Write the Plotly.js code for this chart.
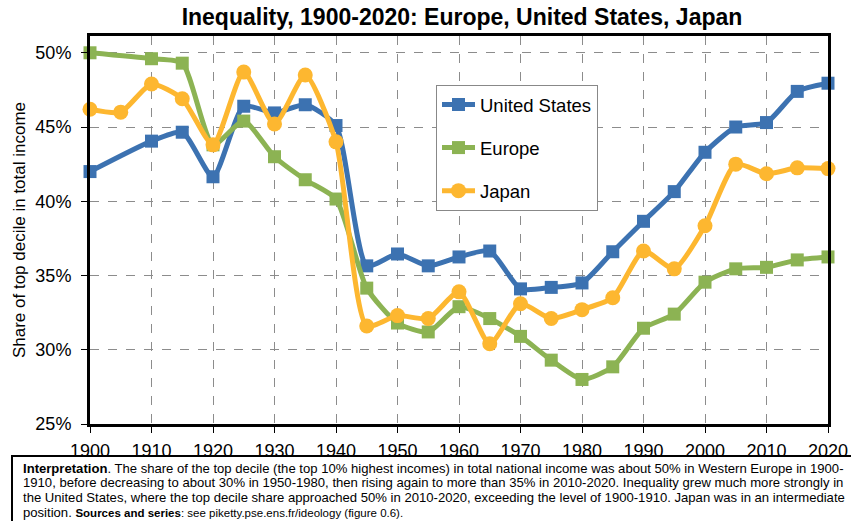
<!DOCTYPE html>
<html><head><meta charset="utf-8">
<script src="https://cdn.plot.ly/plotly-3.0.1.min.js"></script>
<style>html,body{margin:0;padding:0;background:#fff;}#chart{width:851px;height:521px;}</style>
</head><body><div id="chart"></div>
<script>
const yearsUS = [1900,1910,1915,1920,1925,1930,1935,1940,1945,1950,1955,1960,1965,1970,1975,1980,1985,1990,1995,2000,2005,2010,2015,2020];
const valuesUS = [42.0,44.05,44.65,41.65,46.4,45.95,46.5,45.1,35.65,36.45,35.65,36.25,36.65,34.1,34.2,34.5,36.6,38.65,40.65,43.3,45.0,45.3,47.4,47.95];
const yearsEurope = [1900,1910,1915,1920,1925,1930,1935,1940,1945,1950,1955,1960,1965,1970,1975,1980,1985,1990,1995,2000,2005,2010,2015,2020];
const valuesEurope = [50.0,49.6,49.3,43.8,45.4,43.0,41.45,40.15,34.15,31.8,31.2,32.9,32.1,30.9,29.3,28.0,28.85,31.45,32.4,34.55,35.45,35.55,36.05,36.25];
const yearsJapan = [1900,1905,1910,1915,1920,1925,1930,1935,1940,1945,1950,1955,1960,1965,1970,1975,1980,1985,1990,1995,2000,2005,2010,2015,2020];
const valuesJapan = [46.2,46.0,47.9,46.9,43.8,48.7,45.2,48.5,44.0,31.6,32.3,32.1,33.9,30.4,33.1,32.1,32.7,33.5,36.65,35.45,38.35,42.5,41.85,42.25,42.2];
const yTickVals = [25,30,35,40,45,50];
const yTickText = ['25%','30%','35%','40%','45%','50%'];
const xTickVals = [1900,1910,1920,1930,1940,1950,1960,1970,1980,1990,2000,2010,2020];
const noteLines = [
  '<b>Interpretation</b>. The share of the top decile (the top 10% highest incomes) in total national income was about 50% in Western Europe in 1900-',
  '1910, before decreasing to about 30% in 1950-1980, then rising again to more than 35% in 2010-2020. Inequality grew much more strongly in',
  'the United States, where the top decile share approached 50% in 2010-2020, exceeding the level of 1900-1910. Japan was in an intermediate',
  'position. <b style="font-size:11.5px">Sources and series</b><span style="font-size:11.5px">: see piketty.pse.ens.fr/ideology (figure 0.6).</span>'
];

const FONT = 'Liberation Sans, Arial, sans-serif';
const W = 851, H = 521, ML = 90, MR = 23, MT = 36, MB = 97;
const PW = W - ML - MR, PH = H - MT - MB;
const px = x => (x - ML) / PW;
const py = y => (H - MB - y) / PH;

function tr(name, x, y, color, symbol, grp) {
  return {
    x: x, y: y, name: name, type: 'scatter', mode: 'lines+markers',
    legendgroup: grp, cliponaxis: false,
    line: {color: color, width: 5, shape: 'spline', smoothing: 0.6},
    marker: {color: color, symbol: symbol, size: symbol === 'square' ? 13 : 15, line: {width: 0}}
  };
}
const data = [
  tr('United States', yearsUS, valuesUS, '#3C72B1', 'square', 'a'),
  tr('Europe', yearsEurope, valuesEurope, '#8CB353', 'square', 'b'),
  tr('Japan', yearsJapan, valuesJapan, '#FDB730', 'circle', 'c')
];
const annotations = noteLines.map((t, i) => ({
  xref: 'paper', yref: 'paper', x: px(21), y: py(468.5 + 14.5 * i), xanchor: 'left', yanchor: 'middle', align: 'left',
  showarrow: false, font: {family: FONT, size: 13.1, color: '#000'}, text: t
}));
const layout = {
  width: W, height: H,
  margin: {l: ML, r: MR, t: MT, b: MB},
  paper_bgcolor: '#fff', plot_bgcolor: '#fff',
  font: {family: FONT, color: '#000'},
  title: {text: '<b>Inequality, 1900-2020: Europe, United States, Japan</b>',
          font: {family: FONT, size: 23, color: '#000'}, x: 462 / W, xref: 'container', xanchor: 'center',
          y: 1 - 17 / H, yref: 'container', yanchor: 'middle'},
  xaxis: {range: [1900, 2020], tickvals: xTickVals, ticktext: xTickVals.map(String),
          showline: true, linecolor: '#000', linewidth: 3, mirror: true,
          ticks: 'outside', ticklen: 6, tickcolor: '#000', tickwidth: 1, ticklabelstandoff: 2,
          showgrid: true, gridcolor: '#8c8c8c', gridwidth: 1, griddash: 'dash',
          zeroline: false, tickfont: {family: FONT, size: 18, color: '#000'}},
  yaxis: {range: [25, 51.13], tickvals: yTickVals, ticktext: yTickText,
          showline: true, linecolor: '#000', linewidth: 3, mirror: true,
          ticks: 'outside', ticklen: 6, tickcolor: '#000', tickwidth: 1, ticklabelstandoff: 6,
          showgrid: true, gridcolor: '#8c8c8c', gridwidth: 1, griddash: 'dash',
          zeroline: false, tickfont: {family: FONT, size: 18, color: '#000'},
          title: {text: 'Share of top decile in total income', font: {family: FONT, size: 17, color: '#000'}, standoff: 6}},
  legend: {x: px(436), y: py(85), xanchor: 'left', yanchor: 'top',
           bgcolor: '#fff', bordercolor: '#888', borderwidth: 1, itemwidth: 33,
           font: {family: FONT, size: 18.5, color: '#000'},
           traceorder: 'grouped', tracegroupgap: 16},
  showlegend: true,
  shapes: [{type: 'rect', xref: 'paper', yref: 'paper', x0: px(12), x1: px(856), y0: py(530), y1: py(456),
            line: {color: '#000', width: 2}, fillcolor: 'rgba(0,0,0,0)'}],
  annotations: annotations
};
Plotly.newPlot('chart', data, layout, {staticPlot: true, displayModeBar: false});
</script>
</body></html>
